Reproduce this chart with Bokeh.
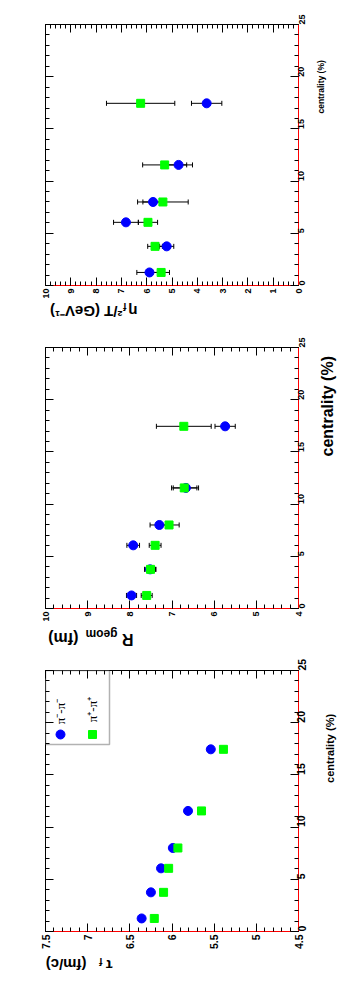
import math
from bokeh.plotting import figure
from bokeh.models import (Range1d, LinearAxis, SingleIntervalTicker, CustomJSTickFormatter,
                          ColumnDataSource, Whisker, TeeHead, Label, BoxAnnotation)
from bokeh.layouts import column, row
from bokeh.embed import file_html
from bokeh.resources import INLINE

# ---------------- data ----------------
centrality = [1.25, 3.75, 6.05, 8.0, 11.55, 17.45]

# eta_f^2 / T  (GeV^-1)
eta_pimpim = [5.89, 5.21, 6.82, 5.75, 4.74, 3.63]
eta_pimpim_err = [0.50, 0.28, 0.49, 0.40, 0.55, 0.60]
eta_pippip = [5.43, 5.67, 5.95, 5.36, 5.29, 6.24]
eta_pippip_err = [0.33, 0.29, 0.38, 1.00, 0.87, 1.35]

# R_geom (fm)
r_pimpim = [7.96, 7.52, 7.92, 7.30, 6.67, 5.74]
r_pimpim_err = [0.12, 0.13, 0.15, 0.22, 0.30, 0.24]
r_pippip = [7.60, 7.51, 7.40, 7.07, 6.71, 6.72]
r_pippip_err = [0.13, 0.13, 0.14, 0.24, 0.30, 0.65]

# tau_f (fm/c)
tau_pimpim = [6.36, 6.25, 6.13, 5.99, 5.81, 5.54]
tau_pippip = [6.21, 6.10, 6.04, 5.93, 5.65, 5.39]

legend_labels = ["\u03c0\u207b-\u03c0\u207b", "\u03c0\u207a-\u03c0\u207a"]
centrality_title = "centrality (%)"

BLUE = "#0000ff"
GREEN = "#00ff00"
FONT = "Liberation Sans"
PAGE_W = 340
FW, FH = 253, 261
FL = 45          # frame left (page px)
RB = 16          # right border of the main figures
STRIP_X = FL + FW + RB
STRIP_W = PAGE_W - STRIP_X


def strip(x0, y0, w, h):
    """Blank figure whose data coordinates are page pixels (y downwards)."""
    s = figure(width=w, height=h, x_range=Range1d(x0, x0 + w), y_range=Range1d(y0 + h, y0),
               x_axis_type=None, y_axis_type=None, min_border=0, toolbar_location=None,
               output_backend="svg", outline_line_color=None, title=None,
               background_fill_color="white", border_fill_color="white")
    s.xgrid.visible = False
    s.ygrid.visible = False
    return s


def make_panel(top_border, bottom_border, xl, xr, xint, tick_size):
    p = figure(frame_width=FW, frame_height=FH, output_backend="svg", toolbar_location=None,
               x_range=Range1d(xl, xr), y_range=Range1d(0, 25), title=None,
               y_axis_location="right", min_border_left=FL, min_border_right=RB,
               min_border_top=top_border, min_border_bottom=bottom_border,
               background_fill_color="white", border_fill_color="white")
    p.xgrid.visible = False
    p.ygrid.visible = False
    p.outline_line_color = "black"
    p.outline_line_width = 1

    fmt = CustomJSTickFormatter(code="return (Math.round(tick*10)/10).toString();")
    blank = CustomJSTickFormatter(code="return '';")
    xt = SingleIntervalTicker(interval=xint, num_minor_ticks=5)
    yt = SingleIntervalTicker(interval=5, num_minor_ticks=5)

    for ax, tk in ((p.xaxis[0], xt), (p.yaxis[0], yt)):
        ax.ticker = tk
        ax.formatter = fmt
        ax.axis_line_color = "red"
        ax.major_tick_in = 8
        ax.major_tick_out = 0
        ax.minor_tick_in = 4
        ax.minor_tick_out = 0
        ax.major_tick_line_color = "black"
        ax.minor_tick_line_color = "black"
        ax.major_label_orientation = math.pi / 2
        ax.major_label_text_font = FONT
        ax.major_label_text_font_style = "bold"
        ax.major_label_text_font_size = tick_size
        ax.major_label_text_color = "black"
        ax.major_label_standoff = 3

    for loc, tk in (("left", yt), ("above", xt)):
        ax = LinearAxis(ticker=tk, formatter=blank, axis_line_color=None,
                        major_tick_in=8, major_tick_out=0, minor_tick_in=4, minor_tick_out=0,
                        major_label_standoff=0, major_label_text_font_size="0px")
        p.add_layout(ax, loc)
    return p


def add_series(p, vals, errs, color, marker, size):
    src = dict(c=centrality, v=vals)
    if errs is not None:
        src["lo"] = [a - e for a, e in zip(vals, errs)]
        src["hi"] = [a + e for a, e in zip(vals, errs)]
    s = ColumnDataSource(src)
    if errs is not None:
        w = Whisker(source=s, base="c", lower="lo", upper="hi", dimension="width",
                    line_color="black", line_width=1,
                    upper_head=TeeHead(size=5, line_color="black", line_width=1),
                    lower_head=TeeHead(size=5, line_color="black", line_width=1))
        p.add_layout(w)
    p.scatter("v", "c", source=s, marker=marker, size=size, fill_color=color,
              line_color=color)


def add_title(s, pieces):
    # upside-down axis title, pieces given by (text, visual right end x, centre y, size)
    for txt, px, py, sz in pieces:
        s.add_layout(Label(x=px, y=py, text=txt, angle=math.pi, text_align="left",
                           text_baseline="middle", text_font=FONT, text_font_style="bold",
                           text_font_size=sz, text_color="black"))


def add_ctitle(s, px, pmid, sz):
    s.add_layout(Label(x=px, y=pmid, text=centrality_title, angle=math.pi / 2,
                       text_align="center", text_baseline="middle", text_font=FONT,
                       text_font_style="bold", text_font_size=sz, text_color="black"))


# ---------------- panel 1: eta_f^2/T ----------------
Y1, H1, B1H = 0, 24 + FH + 14, 30
p1 = make_panel(24, 14, 10, 0, 1, "9px")
add_series(p1, eta_pippip, eta_pippip_err, GREEN, "square", 8)
add_series(p1, eta_pimpim, eta_pimpim_err, BLUE, "circle", 9)
r1 = strip(STRIP_X, Y1, STRIP_W, H1)
add_ctitle(r1, 320, 72, "8.5px")
b1 = strip(0, Y1 + H1, PAGE_W, B1H)
add_title(b1, [("\u03b7", 137, 309, "15px"), ("f", 126, 304, "10px"),
               ("\u00b2/T (GeV\u207b\u00b9)", 122, 309, "15px")])

# ---------------- panel 2: R_geom ----------------
Y2 = Y1 + H1 + B1H
H2, B2H = 16 + FH + 14, 30
p2 = make_panel(16, 14, 10, 4, 1, "9px")
add_series(p2, r_pimpim, r_pimpim_err, BLUE, "circle", 9)
add_series(p2, r_pippip, r_pippip_err, GREEN, "square", 8)
r2 = strip(STRIP_X, Y2, STRIP_W, H2)
add_ctitle(r2, 327, 395, "16px")
b2 = strip(0, Y2 + H2, PAGE_W, B2H)
add_title(b2, [("R", 133, 635, "16px"), ("geom", 117, 629, "12px"),
               ("(fm)", 78, 634, "16px")])

# ---------------- panel 3: tau_f ----------------
Y3 = Y2 + H2 + B2H
H3, B3H = 16 + FH + 21, 27
T3 = Y3 + 16
p3 = make_panel(16, 21, 7.5, 4.5, 0.5, "10.5px")
add_series(p3, tau_pimpim, None, BLUE, "circle", 9)
add_series(p3, tau_pippip, None, GREEN, "square", 8)
r3 = strip(STRIP_X, Y3, STRIP_W, H3)
add_ctitle(r3, 329, 739, "11px")
b3 = strip(0, Y3 + H3, PAGE_W, B3H)
add_title(b3, [("\u03c4", 112, 961, "15px"), ("f", 102, 957, "10px"),
               ("(fm/c)", 86, 960, "15px")])


# legend (data units of panel 3, positions from page pixels)
def X(px):
    return 7.5 + (px - FL) / FW * (4.5 - 7.5)


def Y(py):
    return 25.0 * (T3 + FH - py) / FH


p3.add_layout(BoxAnnotation(left=X(45), right=X(109), top=Y(666), bottom=Y(740),
                            fill_color="white", fill_alpha=1.0, line_color="black",
                            line_width=1.5, level="underlay"))
for txt, px, pmid, color, marker, size in zip(legend_labels, (60, 92), (707, 705),
                                               (BLUE, GREEN), ("circle", "square"), (9, 8)):
    p3.scatter([X(px)], [Y(730)], marker=marker, size=size, fill_color=color, line_color=color)
    p3.add_layout(Label(x=X(px), y=Y(pmid), text=txt, angle=math.pi / 2,
                        text_align="center", text_baseline="middle",
                        text_font="Liberation Serif", text_font_size="13px",
                        text_color="black"))

layout = column(row(p1, r1, spacing=0), b1,
                row(p2, r2, spacing=0), b2,
                row(p3, r3, spacing=0), b3, spacing=0)
open("out.html", "w").write(file_html(layout, INLINE))
